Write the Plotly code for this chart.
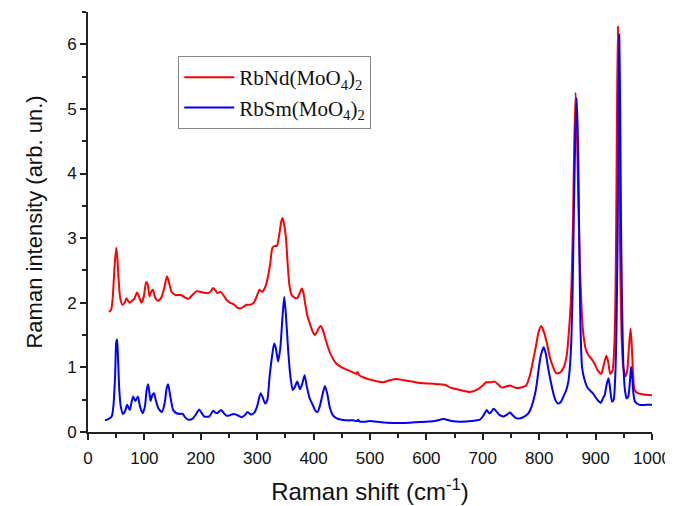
import plotly.graph_objects as go

# ---- data ----
nd_x = [37, 41, 44, 47, 50, 52, 54, 57, 61, 65, 68, 71, 74, 78, 82, 87, 91, 95, 99, 103, 106, 109, 112, 115, 119,
        124, 130, 135, 140, 144, 148, 155, 165, 172, 178, 185, 193, 203, 213, 218, 222, 226, 230, 235, 240, 246,
        252, 258, 264, 270, 276, 281, 288, 294, 300, 304, 309, 314, 319, 323, 327, 331, 335, 339, 343, 345, 348,
        351, 354, 357, 361, 366, 371, 375, 379, 382, 385, 389, 394, 398, 402, 406, 410, 413, 417, 421, 426, 432,
        440, 450, 460, 470, 476, 478, 481, 490, 500, 510, 523, 535, 547, 560, 575, 590, 605, 620, 632, 645, 660,
        677, 691, 700, 706, 714, 721, 727, 733, 740, 748, 754, 760, 768, 777, 783, 789, 794, 799, 803.5, 807, 813,
        819, 825, 830, 837, 844, 849, 852, 856, 858, 860, 862, 864.5, 867, 869.5, 872.5, 875, 877, 880, 883, 888,
        892, 898, 904, 910, 914, 919, 922, 926, 930, 933, 935, 936.5, 938, 939.5, 941, 942.5, 944, 946, 949, 953,
        956, 959, 962, 964, 966.5, 969, 975, 985, 1000]
nd_y = [1.86, 1.89, 2.1, 2.55, 2.85, 2.7, 2.4, 2.08, 1.97, 2.0, 2.07, 2.03, 2.0, 2.03, 2.06, 2.16, 2.08, 2.0, 2.1,
        2.32, 2.28, 2.1, 2.17, 2.2, 2.08, 2.03, 2.08, 2.22, 2.41, 2.3, 2.17, 2.12, 2.12, 2.08, 2.06, 2.12, 2.18,
        2.16, 2.15, 2.18, 2.23, 2.19, 2.15, 2.17, 2.12, 2.04, 2.0, 1.98, 1.93, 1.91, 1.94, 1.97, 1.97, 2.0, 2.12,
        2.2, 2.17, 2.24, 2.4, 2.6, 2.85, 2.88, 2.88, 3.05, 3.27, 3.31, 3.2, 3.0, 2.6, 2.28, 2.12, 2.08, 2.07, 2.14,
        2.22, 2.15, 1.99, 1.8, 1.66, 1.56, 1.5, 1.55, 1.62, 1.64, 1.56, 1.44, 1.3, 1.17, 1.06, 1.0, 0.96, 0.92, 0.9,
        0.93, 0.88, 0.84, 0.81, 0.79, 0.77, 0.8, 0.82, 0.8, 0.78, 0.76, 0.75, 0.74, 0.73, 0.68, 0.65, 0.62, 0.66,
        0.72, 0.77, 0.77, 0.78, 0.74, 0.69, 0.7, 0.72, 0.7, 0.68, 0.69, 0.72, 0.86, 1.1, 1.32, 1.55, 1.64, 1.58,
        1.40, 1.15, 1.0, 0.91, 0.92, 1.01, 1.2, 1.48, 2.0, 2.51, 3.3, 4.4, 5.25, 4.6, 3.5, 2.5, 1.95, 1.63, 1.4,
        1.27, 1.18, 1.14, 1.06, 0.95, 0.9, 1.02, 1.18, 1.1, 0.9, 0.95, 1.3, 2.0, 3.2, 5.0, 6.27, 5.2, 3.6, 2.4, 1.5,
        1.0, 0.86, 0.95, 1.3, 1.6, 1.35, 0.9, 0.65, 0.6, 0.58, 0.57]

sm_x = [30, 36, 42, 45, 48, 50, 51.5, 53, 55.5, 58, 62, 66, 69.5, 74, 77, 80, 84, 88.5, 92, 97, 101, 104, 106.5,
        109, 111, 114, 117, 120, 124.5, 131, 136, 139.5, 142, 146, 151, 157, 163, 168, 172, 178, 186, 192, 197,
        201, 206, 215, 222, 226, 229, 236, 241, 246, 252, 258, 265, 272, 278, 283, 289, 295, 300, 306, 310, 314,
        318, 322, 326, 330, 333, 337, 341, 345, 348, 351, 355, 359, 363, 367, 371, 376, 380, 384, 388, 393, 398,
        403, 407, 411, 415, 420, 424, 429, 434, 441, 450, 460, 470, 477, 479, 482, 490, 500, 520, 540, 560, 580,
        600, 615, 630, 645, 660, 680, 695, 700, 704, 707, 711, 714, 719, 724, 730, 737, 743, 748, 753, 758, 765,
        772, 780, 785, 790, 794, 798, 802, 805, 808, 812, 816, 820, 825, 829, 833, 838, 843, 848, 852, 856, 859,
        861.5, 864, 866.5, 869, 871, 873, 876, 880, 886, 895, 903, 909, 913, 916, 920, 923, 926, 929, 932, 935,
        937, 939, 940.5, 942, 943.5, 945, 947, 949, 952, 955, 958, 961, 963, 965, 967, 970, 978, 990, 1000]
sm_y = [0.18, 0.2, 0.24, 0.4, 0.85, 1.38, 1.43, 1.2, 0.65, 0.4, 0.28, 0.33, 0.42, 0.34, 0.45, 0.55, 0.48, 0.55,
        0.4, 0.29, 0.4, 0.65, 0.74, 0.6, 0.48, 0.57, 0.6, 0.5, 0.37, 0.31, 0.45, 0.68, 0.74, 0.55, 0.34, 0.29,
        0.28, 0.28, 0.23, 0.19, 0.21, 0.28, 0.35, 0.3, 0.24, 0.24, 0.33, 0.3, 0.29, 0.34, 0.29, 0.25, 0.26, 0.28,
        0.26, 0.23, 0.26, 0.31, 0.27, 0.3, 0.4, 0.6, 0.53, 0.44, 0.5, 0.86, 1.15, 1.37, 1.3, 1.09, 1.3, 1.8, 2.09,
        1.8, 1.25, 0.85, 0.65, 0.7, 0.78, 0.66, 0.75, 0.88, 0.7, 0.52, 0.43, 0.33, 0.31, 0.4, 0.55, 0.71, 0.6,
        0.37, 0.26, 0.21, 0.19, 0.18, 0.18, 0.17, 0.19, 0.16, 0.16, 0.17, 0.15, 0.14, 0.14, 0.15, 0.16, 0.17, 0.2,
        0.17, 0.16, 0.17, 0.19, 0.24, 0.3, 0.34, 0.29, 0.3, 0.36, 0.32, 0.26, 0.24, 0.27, 0.3, 0.26, 0.22, 0.21,
        0.23, 0.28, 0.36, 0.5, 0.65, 0.9, 1.15, 1.25, 1.31, 1.2, 0.98, 0.8, 0.6, 0.49, 0.44, 0.46, 0.55, 0.65, 0.8,
        1.22, 2.09, 3.4, 4.6, 5.17, 4.4, 3.0, 1.7, 1.0, 0.82, 0.68, 0.6, 0.5, 0.45, 0.52, 0.57, 0.75, 0.83, 0.65,
        0.47, 0.5, 0.9, 1.6, 3.0, 4.8, 6.15, 5.0, 3.3, 1.9, 1.1, 0.65, 0.52, 0.55, 0.8, 1.01, 0.85, 0.6, 0.47, 0.42,
        0.42, 0.42]

series_names = ["RbNd(MoO<sub>4</sub>)<sub>2</sub>", "RbSm(MoO<sub>4</sub>)<sub>2</sub>"]
series_colors = ["#ff0000", "#0000ff"]

x_title = "Raman shift (cm<sup>-1</sup>)"
y_title = "Raman intensity (arb. un.)"

fig = go.Figure()
for xs, ys, nm, col in [(nd_x, nd_y, series_names[0], series_colors[0]),
                        (sm_x, sm_y, series_names[1], series_colors[1])]:
    fig.add_trace(go.Scatter(x=xs, y=ys, mode="lines", name=nm,
                             line=dict(color=col, width=2, shape="spline", smoothing=0.6)))

axis_col = "#222222"
tick_font = dict(family="Liberation Sans, Arial", size=17, color="#111111")

fig.update_layout(
    width=673, height=506,
    margin=dict(l=80, r=29, t=4, b=82),
    paper_bgcolor="white", plot_bgcolor="white",
    showlegend=True,
    legend=dict(x=0.16, y=0.895, xanchor="left", yanchor="top", itemwidth=50,
                bordercolor="#888888", borderwidth=1, bgcolor="white",
                font=dict(family="Liberation Serif, Times New Roman", size=21, color="#111111")),
    xaxis=dict(range=[0, 1000], dtick=100, tick0=0, ticks="outside", ticklen=6, tickwidth=2,
               tickcolor=axis_col, showline=True, linewidth=2, linecolor=axis_col, automargin=False,
               showgrid=False, zeroline=False, tickfont=tick_font, ticklabelstandoff=4,
               minor=dict(dtick=50, ticks="outside", ticklen=4, tickwidth=2, tickcolor=axis_col, showgrid=False),
               title=dict(text=x_title, font=dict(family="Liberation Sans, Arial", size=24, color="#111111"),
                          standoff=16)),
    yaxis=dict(range=[0, 6.5], dtick=1, tick0=0, ticks="outside", ticklen=6, tickwidth=2,
               tickcolor=axis_col, showline=True, linewidth=2, linecolor=axis_col, automargin=False,
               showgrid=False, zeroline=False, tickfont=tick_font,
               minor=dict(dtick=0.5, ticks="outside", ticklen=4, tickwidth=2, tickcolor=axis_col, showgrid=False),
               title=dict(text=y_title, font=dict(family="Liberation Sans, Arial", size=22, color="#111111"),
                          standoff=18)),
    xaxis2=dict(range=[0, 1000], overlaying="x", side="top", dtick=100, tick0=0, ticks="inside", ticklen=6,
                tickwidth=2, tickcolor=axis_col, showline=True, linewidth=2, linecolor=axis_col,
                showticklabels=False, showgrid=False, zeroline=False, automargin=False,
                minor=dict(dtick=50, ticks="inside", ticklen=4, tickwidth=2, tickcolor=axis_col, showgrid=False)),
    yaxis2=dict(range=[0, 6.5], overlaying="y", side="right", dtick=1, tick0=0, ticks="inside", ticklen=6,
                tickwidth=2, tickcolor=axis_col, showline=True, linewidth=2, linecolor=axis_col,
                showticklabels=False, showgrid=False, zeroline=False, automargin=False,
                minor=dict(dtick=0.5, ticks="inside", ticklen=4, tickwidth=2, tickcolor=axis_col, showgrid=False)),
)

fig.write_html("out.html")
